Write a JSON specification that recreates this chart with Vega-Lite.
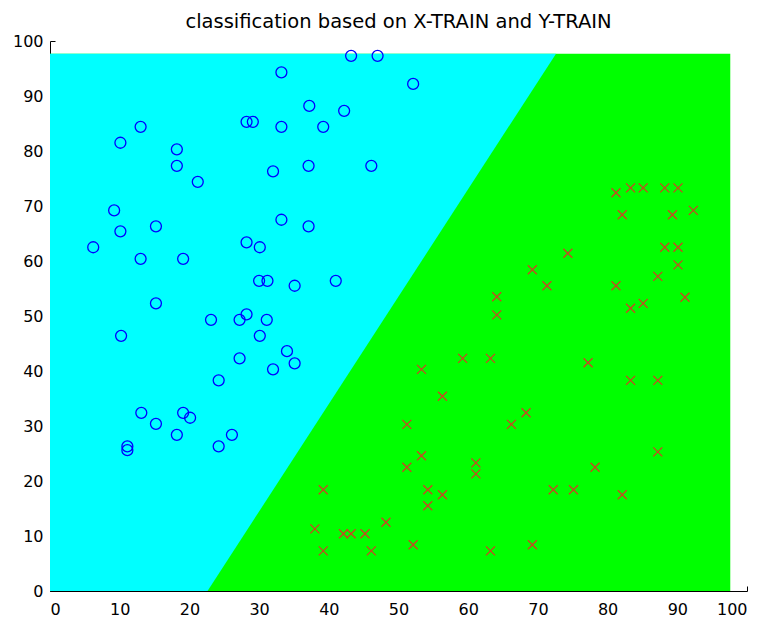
{
  "$schema": "https://vega.github.io/schema/vega-lite/v6.json",
  "width": 697,
  "height": 550,
  "autosize": {"type": "none"},
  "padding": {"left": 50, "top": 41, "right": 20, "bottom": 26},
  "background": "white",
  "config": {
    "view": {"stroke": null},
    "font": "DejaVu Sans",
    "axis": {
      "grid": false,
      "domainColor": "black",
      "domainWidth": 1,
      "tickColor": "black",
      "tickSize": -5,
      "labelFontSize": 16,
      "labelColor": "black",
      "labelFont": "DejaVu Sans",
      "title": null
    }
  },
  "title": {
    "text": "classification based on X-TRAIN and Y-TRAIN",
    "fontSize": 19.5,
    "fontWeight": "normal",
    "font": "DejaVu Sans",
    "color": "black",
    "anchor": "middle",
    "baseline": "alphabetic",
    "offset": 7,
    "dy": 21
  },
  "datasets": {
    "grid": [
      {"x": 0, "x2": 97.6, "y": 0, "y2": 97.7}
    ],
    "boundary": [
      {"y": 0, "x": 22.6, "x0": 0},
      {"y": 97.7, "x": 72.6, "x0": 0}
    ],
    "class1": [
      {"x": 43.2, "y": 97.3}, {"x": 47.0, "y": 97.3}, {"x": 33.2, "y": 94.3},
      {"x": 37.2, "y": 88.2}, {"x": 42.2, "y": 87.3}, {"x": 28.2, "y": 85.3},
      {"x": 29.1, "y": 85.3}, {"x": 33.2, "y": 84.4}, {"x": 39.2, "y": 84.4},
      {"x": 13.0, "y": 84.4}, {"x": 10.1, "y": 81.5}, {"x": 18.2, "y": 80.3},
      {"x": 18.2, "y": 77.3}, {"x": 32.0, "y": 76.3}, {"x": 37.1, "y": 77.3},
      {"x": 46.1, "y": 77.3}, {"x": 21.2, "y": 74.4}, {"x": 9.2, "y": 69.2},
      {"x": 10.1, "y": 65.4}, {"x": 15.2, "y": 66.3}, {"x": 6.2, "y": 62.5},
      {"x": 13.0, "y": 60.4}, {"x": 19.1, "y": 60.4}, {"x": 33.2, "y": 67.5},
      {"x": 37.1, "y": 66.3}, {"x": 28.2, "y": 63.4}, {"x": 30.1, "y": 62.5},
      {"x": 30.0, "y": 56.4}, {"x": 31.2, "y": 56.4}, {"x": 35.1, "y": 55.5},
      {"x": 41.0, "y": 56.4}, {"x": 52.1, "y": 92.2},
      {"x": 15.2, "y": 52.3}, {"x": 23.1, "y": 49.3}, {"x": 27.2, "y": 49.3},
      {"x": 28.2, "y": 50.3}, {"x": 31.1, "y": 49.3}, {"x": 10.2, "y": 46.4},
      {"x": 30.1, "y": 46.4}, {"x": 34.0, "y": 43.6}, {"x": 35.1, "y": 41.4},
      {"x": 27.2, "y": 42.3}, {"x": 32.0, "y": 40.3}, {"x": 24.2, "y": 38.3},
      {"x": 13.1, "y": 32.4}, {"x": 15.2, "y": 30.4}, {"x": 19.1, "y": 32.4},
      {"x": 20.1, "y": 31.5}, {"x": 18.2, "y": 28.4}, {"x": 26.1, "y": 28.4},
      {"x": 24.2, "y": 26.3}, {"x": 11.1, "y": 26.3}, {"x": 11.1, "y": 25.6}
    ],
    "class2": [
      {"x": 81.2, "y": 72.4}, {"x": 83.3, "y": 73.3}, {"x": 85.1, "y": 73.3},
      {"x": 88.2, "y": 73.3}, {"x": 90.1, "y": 73.3}, {"x": 82.1, "y": 68.4},
      {"x": 89.3, "y": 68.4}, {"x": 92.3, "y": 69.2}, {"x": 88.2, "y": 62.5},
      {"x": 90.1, "y": 62.5}, {"x": 90.1, "y": 59.3}, {"x": 74.3, "y": 61.4},
      {"x": 69.2, "y": 58.4}, {"x": 71.3, "y": 55.5}, {"x": 81.2, "y": 55.5},
      {"x": 87.2, "y": 57.2}, {"x": 85.1, "y": 52.3}, {"x": 83.3, "y": 51.4},
      {"x": 91.1, "y": 53.4}, {"x": 64.1, "y": 53.5}, {"x": 64.1, "y": 50.2},
      {"x": 59.2, "y": 42.3}, {"x": 63.2, "y": 42.3}, {"x": 53.3, "y": 40.3},
      {"x": 77.2, "y": 41.5}, {"x": 83.3, "y": 38.3}, {"x": 87.2, "y": 38.3},
      {"x": 56.3, "y": 35.4}, {"x": 68.3, "y": 32.4}, {"x": 51.2, "y": 30.3},
      {"x": 66.2, "y": 30.3},
      {"x": 87.2, "y": 25.3}, {"x": 53.3, "y": 24.6}, {"x": 51.2, "y": 22.5},
      {"x": 61.1, "y": 23.3}, {"x": 61.1, "y": 21.3}, {"x": 78.2, "y": 22.5},
      {"x": 39.2, "y": 18.4}, {"x": 54.2, "y": 18.4}, {"x": 56.3, "y": 17.5},
      {"x": 72.2, "y": 18.4}, {"x": 75.1, "y": 18.4}, {"x": 82.1, "y": 17.5},
      {"x": 54.2, "y": 15.5}, {"x": 48.2, "y": 12.5}, {"x": 38.0, "y": 11.3},
      {"x": 42.1, "y": 10.4}, {"x": 43.2, "y": 10.4}, {"x": 45.2, "y": 10.4},
      {"x": 39.2, "y": 7.3}, {"x": 46.1, "y": 7.3}, {"x": 52.1, "y": 8.4},
      {"x": 63.2, "y": 7.3}, {"x": 69.2, "y": 8.4}
    ]
  },
  "layer": [
    {
      "data": {"name": "grid"},
      "mark": {"type": "rect", "color": "#00ff00"},
      "encoding": {
        "x": {
          "field": "x", "type": "quantitative",
          "scale": {"domain": [0, 100], "nice": false},
          "axis": {"values": [0, 10, 20, 30, 40, 50, 60, 70, 80, 90, 100], "labelPadding": 15}
        },
        "x2": {"field": "x2"},
        "y": {
          "field": "y", "type": "quantitative",
          "scale": {"domain": [0, 100], "nice": false},
          "axis": {"values": [0, 10, 20, 30, 40, 50, 60, 70, 80, 90, 100], "labelPadding": 12}
        },
        "y2": {"field": "y2"}
      }
    },
    {
      "data": {"name": "boundary"},
      "mark": {"type": "area", "orient": "horizontal", "color": "#00ffff"},
      "encoding": {
        "y": {"field": "y", "type": "quantitative"},
        "x": {"field": "x", "type": "quantitative"},
        "x2": {"field": "x0"}
      }
    },
    {
      "data": {"name": "class1"},
      "mark": {"type": "point", "shape": "circle", "filled": false, "stroke": "#0000ff", "strokeWidth": 1.3, "size": 120, "opacity": 1},
      "encoding": {
        "x": {"field": "x", "type": "quantitative"},
        "y": {"field": "y", "type": "quantitative"}
      }
    },
    {
      "data": {"name": "class2"},
      "mark": {"type": "point", "shape": "M-1,-1L1,1M-1,1L1,-1", "filled": false, "stroke": "#cc4422", "strokeWidth": 1.3, "size": 81, "opacity": 1},
      "encoding": {
        "x": {"field": "x", "type": "quantitative"},
        "y": {"field": "y", "type": "quantitative"}
      }
    }
  ]
}
